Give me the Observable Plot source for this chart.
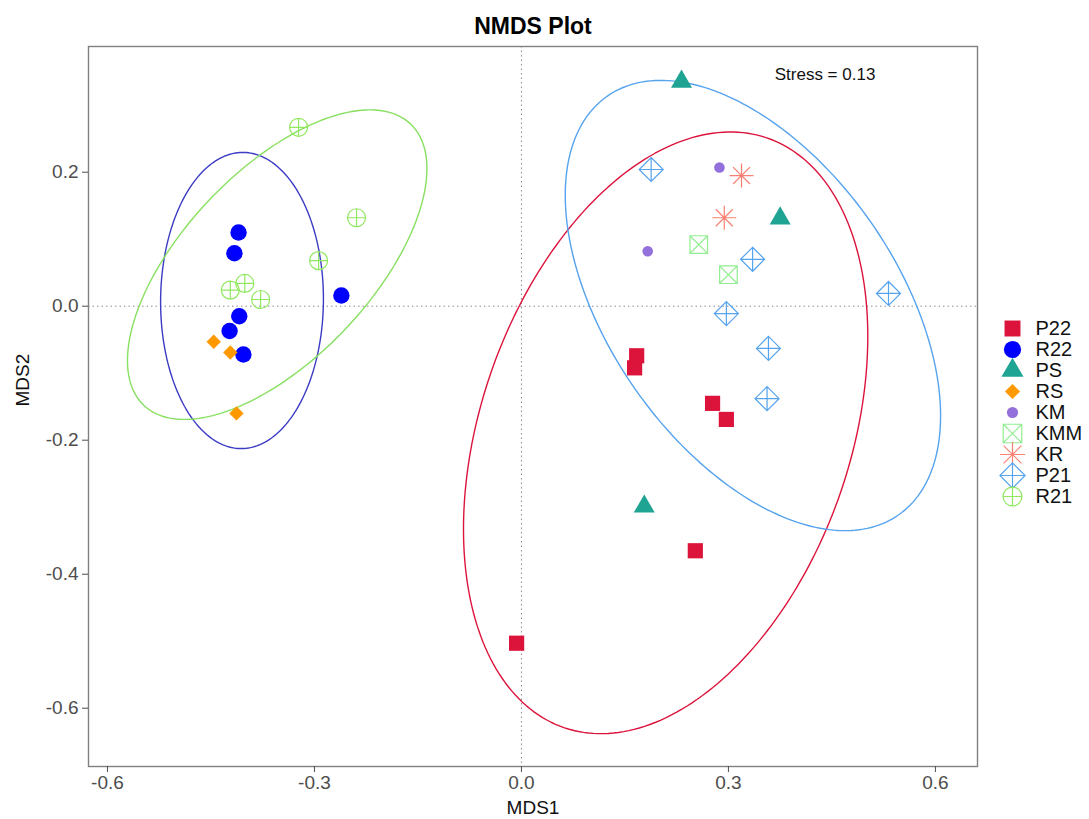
<!DOCTYPE html>
<html><head><meta charset="utf-8">
<script src="https://cdn.jsdelivr.net/npm/d3@7"></script>
<script src="https://cdn.jsdelivr.net/npm/@observablehq/plot@0.6"></script>
<style>
html,body{margin:0;padding:0;background:#fff;}
#wrap{position:relative;width:1089px;height:819px;font-family:"Liberation Sans",Arial,Helvetica,sans-serif;}
#legend{position:absolute;left:990px;top:300px;}
#chart{position:absolute;left:0;top:0;}
</style></head><body><div id="wrap"><div id="chart"></div><div id="legend"></div></div>
<script>
// ---- data ----
const groups = ["P22","R22","PS","RS","KM","KMM","KR","P21","R21"];
const P22 = [[0.167,-0.074],[0.164,-0.092],[0.277,-0.145],[0.297,-0.169],[0.252,-0.365],[-0.007,-0.503]];
const R22 = [[-0.410,0.110],[-0.416,0.079],[-0.409,-0.015],[-0.423,-0.037],[-0.403,-0.072],[-0.261,0.016]];
const PS  = [[0.232,0.335],[0.375,0.131],[0.178,-0.299]];
const RS  = [[-0.446,-0.053],[-0.422,-0.069],[-0.413,-0.160]];
const KM  = [[0.287,0.207],[0.183,0.082]];
const KMM = [[0.257,0.092],[0.300,0.047]];
const KR  = [[0.319,0.195],[0.294,0.132]];
const P21 = [[0.188,0.204],[0.335,0.070],[0.297,-0.011],[0.358,-0.063],[0.356,-0.138],[0.532,0.019]];
const R21 = [[-0.323,0.267],[-0.239,0.132],[-0.294,0.068],[-0.401,0.034],[-0.422,0.024],[-0.378,0.010]];
const series = {P22, R22, PS, RS, KM, KMM, KR, P21, R21};

// confidence ellipses: centre, half x-extent, half y-extent, correlation
const ellGroups = ["P22","R22","P21","R21"];
const ellCx  = [0.209,-0.405,0.3355,-0.354];
const ellCy  = [-0.189,0.0085,0.001,0.062];
const ellW   = [0.293,0.118,0.272,0.217];
const ellH   = [0.449,0.221,0.336,0.231];
const ellRho = [0.32,0.01,-0.49,0.62];

const xTicks = [-0.6,-0.3,0.0,0.3,0.6];
const yTicks = [-0.6,-0.4,-0.2,0.0,0.2];
const stressLabel = "Stress = 0.13";
const stressPos = [0.44, 0.345];

// ---- symbols (ggplot-like shapes) ----
const rad = s => Math.sqrt(s / Math.PI);
const symSquare = {draw(c,s){const r=rad(s); c.rect(-r,-r,2*r,2*r);}};
const symCircle = {draw(c,s){const r=rad(s); c.moveTo(r,0); c.arc(0,0,r,0,2*Math.PI);}};
const symTriangle = {draw(c,s){const r=rad(s), h=r*Math.sqrt(3); c.moveTo(0,-2*h/3); c.lineTo(r,h/3); c.lineTo(-r,h/3); c.closePath();}};
const symDiamond = {draw(c,s){const r=rad(s); c.moveTo(0,-r); c.lineTo(r,0); c.lineTo(0,r); c.lineTo(-r,0); c.closePath();}};
const symSquareX = {draw(c,s){const r=rad(s); c.rect(-r,-r,2*r,2*r); c.moveTo(-r,-r); c.lineTo(r,r); c.moveTo(r,-r); c.lineTo(-r,r);}};
const symStar8 = {draw(c,s){const r=rad(s), d=r/Math.SQRT2; c.moveTo(-r,0);c.lineTo(r,0);c.moveTo(0,-r);c.lineTo(0,r);c.moveTo(-d,-d);c.lineTo(d,d);c.moveTo(d,-d);c.lineTo(-d,d);}};
const symDiamondPlus = {draw(c,s){const r=rad(s); c.moveTo(0,-r); c.lineTo(r,0); c.lineTo(0,r); c.lineTo(-r,0); c.closePath(); c.moveTo(-r,0);c.lineTo(r,0);c.moveTo(0,-r);c.lineTo(0,r);}};
const symCirclePlus = {draw(c,s){const r=rad(s); c.moveTo(r,0); c.arc(0,0,r,0,2*Math.PI); c.moveTo(-r,0);c.lineTo(r,0);c.moveTo(0,-r);c.lineTo(0,r);}};

const styles = {
  P22: {symbol: symSquare, r: 7.6, fill: "#DC143C"},
  R22: {symbol: symCircle, r: 8.2, fill: "#0000FF"},
  PS:  {symbol: symTriangle, r: 10.5, fill: "#1FA393"},
  RS:  {symbol: symDiamond, r: 7.2, fill: "#FF9900"},
  KM:  {symbol: symCircle, r: 5.3, fill: "#9370DB"},
  KMM: {symbol: symSquareX, r: 8.8, stroke: "#90EE90"},
  KR:  {symbol: symStar8, r: 12, stroke: "#FA8072"},
  P21: {symbol: symDiamondPlus, r: 12, stroke: "#56A3EE"},
  R21: {symbol: symCirclePlus, r: 9, stroke: "#90E860"}
};
const ellStroke = {P22: "#DC143C", R22: "#3B3BC4", P21: "#56A3EE", R21: "#88E060"};

function dotOpts(g, scale=1) {
  const s = styles[g];
  return s.fill
    ? {symbol: s.symbol, r: s.r*scale, fill: s.fill, stroke: "none"}
    : {symbol: s.symbol, r: s.r*scale, fill: "none", stroke: s.stroke, strokeWidth: 1.2};
}

// ellipse outlines from parameters
const ellPaths = ellGroups.map((g, i) => {
  const phi = Math.acos(ellRho[i]);
  return d3.range(0, 241).map(k => {
    const t = 2*Math.PI*k/240;
    return {x: ellCx[i] + ellW[i]*Math.cos(t), y: ellCy[i] + ellH[i]*Math.cos(t - phi)};
  });
});

const fmt = d => d.toFixed(1);

const chart = Plot.plot({
  width: 1089, height: 819,
  marginLeft: 88, marginRight: 112, marginTop: 46, marginBottom: 53,
  style: {fontFamily: '"Liberation Sans", Arial, Helvetica, sans-serif', background: "#fff"},
  x: {domain: [-0.6275, 0.661]},
  y: {domain: [-0.687, 0.3876]},
  marks: [
    Plot.ruleX([0], {stroke: "#8c8c8c", strokeDasharray: "1.5,3", strokeWidth: 1}),
    Plot.ruleY([0], {stroke: "#8c8c8c", strokeDasharray: "1.5,3", strokeWidth: 1}),
    ...ellGroups.map((g, i) => Plot.line(ellPaths[i], {x: "x", y: "y", stroke: ellStroke[g], strokeWidth: 1.4})),
    ...groups.map(g => Plot.dot(series[g], {x: d => d[0], y: d => d[1], ...dotOpts(g)})),
    Plot.text([stressLabel], {x: () => stressPos[0], y: () => stressPos[1], text: d => d, fontSize: 17, fill: "#111"}),
    Plot.frame({stroke: "#808080", strokeWidth: 1.4}),
    Plot.axisX(xTicks, {tickFormat: fmt, tickSize: 6, tickPadding: 3, fontSize: 19, color: "#4D4D4D", label: null}),
    Plot.axisY(yTicks, {tickFormat: fmt, tickSize: 6, tickPadding: 4, fontSize: 19, color: "#4D4D4D", label: null}),
    Plot.text(["MDS1"], {frameAnchor: "bottom", lineAnchor: "middle", dy: 41, text: d => d, fontSize: 19, fill: "#111"}),
    Plot.text(["MDS2"], {frameAnchor: "left", lineAnchor: "middle", dx: -66, rotate: -90, text: d => d, fontSize: 19, fill: "#111"}),
    Plot.text(["NMDS Plot"], {frameAnchor: "top", lineAnchor: "middle", dy: -20, text: d => d, fontSize: 23, fontWeight: "bold", fill: "#000"})
  ]
});
document.getElementById("chart").appendChild(chart);

const legend = Plot.plot({
  width: 99, height: 225, marginTop: 25, marginBottom: 26, marginLeft: 22, marginRight: 0,
  style: {fontFamily: '"Liberation Sans", Arial, Helvetica, sans-serif', background: "transparent"},
  x: {domain: [0, 1], axis: null},
  y: {type: "point", domain: groups, padding: 0, axis: null},
  marks: [
    ...groups.map(g => Plot.dot([g], {x: () => 0, y: d => d, ...dotOpts(g, 1.05)})),
    Plot.text(groups, {x: () => 0, y: d => d, text: d => d, dx: 23, textAnchor: "start", fontSize: 20, fill: "#111"})
  ]
});
document.getElementById("legend").appendChild(legend);
</script>
</body></html>
